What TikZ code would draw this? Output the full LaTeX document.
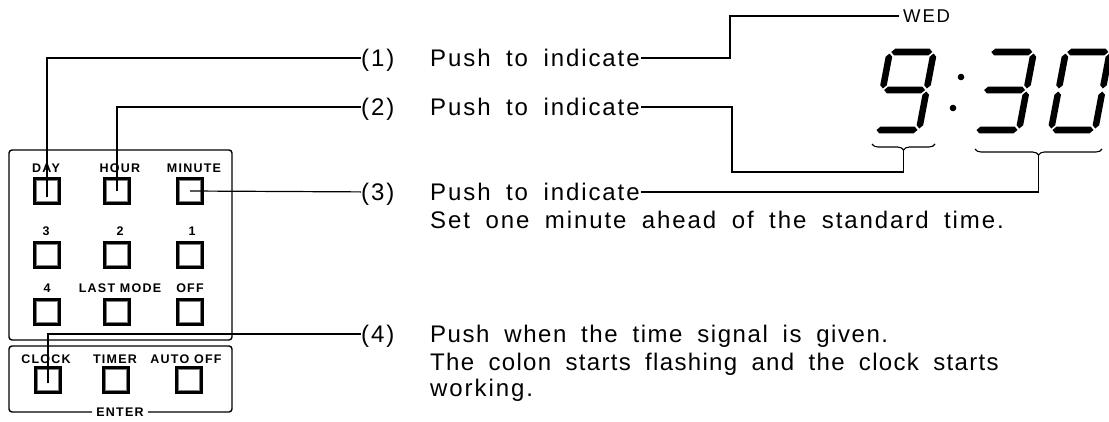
\documentclass[tikz,border=0pt]{standalone}
\usepackage{fontspec}
\setmainfont{Liberation Sans}
\newfontfamily\txtfont[LetterSpace=8,WordSpace=1.8]{Liberation Sans}
\newfontfamily\lblfont[LetterSpace=10]{Liberation Sans}
\usetikzlibrary{decorations.pathreplacing}
\newcommand\sgh[3]{\fill (#1,#3) -- ({#1+3.3},{#3-3.3}) -- ({#2-3.3},{#3-3.3}) -- (#2,#3) -- ({#2-3.3},{#3+3.3}) -- ({#1+3.3},{#3+3.3}) -- cycle;}
\newcommand\sgv[3]{\fill (#1,#2) -- ({#1+3.3},{#2+3.3}) -- ({#1+3.3},{#3-3.3}) -- (#1,#3) -- ({#1-3.3},{#3-3.3}) -- ({#1-3.3},{#2+3.3}) -- cycle;}
\newcommand\segA{\sgh{1.5}{42.5}{-78}}
\newcommand\segG{\sgh{1.5}{42.5}{-40}}
\newcommand\segD{\sgh{1.5}{42.5}{0}}
\newcommand\segB{\sgv{44}{-76.5}{-41.5}}
\newcommand\segC{\sgv{44}{-38.5}{-1.5}}
\newcommand\segF{\sgv{0}{-76.5}{-41.5}}
\newcommand\segE{\sgv{0}{-38.5}{-1.5}}
\begin{document}
\begin{tikzpicture}[x=1pt,y=-1pt,
  lead/.style={line width=1.2pt},
  box/.style={line width=1.4pt, rounded corners=3pt},
  btn/.style={draw, line width=3.6pt, minimum size=24.5pt, inner sep=0pt},
  lbl/.style={font=\lblfont\bfseries\fontsize{12.5}{13}\selectfont, inner sep=0pt, anchor=base},
  num/.style={font=\txtfont\fontsize{24}{26}\selectfont, inner sep=0pt, anchor=base west},
  txt/.style={num},
  brc/.style={decorate, decoration={brace, mirror, amplitude=6pt}, line width=1.1pt}
]
\useasboundingbox (0,0) rectangle (1109,421);

% panel boxes
\draw[box] (9,150) rectangle (232,340);
\node[lbl, anchor=center, inner xsep=4pt] (enter) at (120,412) {ENTER};
\draw[box] (enter.west) -- (9,412) -- (9,346) -- (232,346) -- (232,412) -- (enter.east);

% buttons
\foreach \n/\x/\y in {day/47/191, hour/117/191, minute/190/191,
                      three/47/255, two/117/255, one/190/255,
                      four/47/312, last/117/312, off/190/312,
                      clock/48/380, timer/116/380, auto/189/380}{
  \node[btn] (\n) at (\x,\y) {};
  \draw[gray, line width=0.5pt] ([shift={(3.5,-3.5)}]\n.south west) rectangle ([shift={(-3.5,3.5)}]\n.north east);
}
% labels
\node[lbl] (lday) at (46,172) {DAY};
\node[lbl] (lhour) at (120,172) {HOUR};
\node[lbl] (lmin) at (194,172) {MINUTE};
\node[lbl] (l3) at (46,235) {3};
\node[lbl] (l2) at (120,235) {2};
\node[lbl] (l1) at (192,235) {1};
\node[lbl] (l4) at (47,292) {4};
\node[lbl] (llast) at (120,292) {LAST MODE};
\node[lbl] (loff) at (190,292) {OFF};
\node[lbl] (lclock) at (46,363) {CLOCK};
\node[lbl] (ltimer) at (115,363) {TIMER};
\node[lbl] (lauto) at (186,363) {AUTO OFF};

% texts
\node[num] (n1) at (361,66.5) {(1)};
\node[txt] (t1) at (430,66.5) {Push to indicate};
\node[num] (n2) at (361,115.5) {(2)};
\node[txt] (t2) at (430,115.5) {Push to indicate};
\node[num] (n3) at (361,200.5) {(3)};
\node[txt] (t3) at (430,200.5) {Push to indicate};
\node[txt] (t3b) at (430,228.5) {Set one minute ahead of the standard time.};
\node[num] (n4) at (361,342.5) {(4)};
\node[txt] (t4) at (430,342.5) {\addfontfeature{LetterSpace=6.5}Push when the time signal is given.};
\node[txt] (t4b) at (430,370) {\addfontfeature{LetterSpace=5.5}The colon starts flashing and the clock starts};
\node[txt] (t4c) at (430,396) {working.};
\node[font=\lblfont\fontsize{18.5}{20}\selectfont, inner sep=0pt, anchor=base west] (wed) at (903,22.5) {WED};

% digits
\begin{scope}[shift={(875,130)}, xslant=0.19]
  \segA\segB\segC\segD\segF\segG
\end{scope}
\begin{scope}[shift={(975,130)}, xslant=0.19]
  \segA\segB\segC\segD\segG
\end{scope}
\begin{scope}[shift={(1051,130)}, xslant=0.19]
  \segA\segB\segC\segD\segE\segF
\end{scope}
\fill (961,77) circle (3.3);
\fill (953,108) circle (3.3);

% braces
\draw[brc] (872,144) -- (935,144);
\draw[brc] (975,149) -- (1102,149);
\coordinate (b9) at (903.5,150);
\coordinate (b30) at (1038.5,155);

% leaders, panel side
\draw[lead] ([yshift=-6pt]day.center) |- ([yshift=8.6pt]n1.base west);
\draw[lead] (hour.center) |- ([yshift=8.6pt]n2.base west);
\draw[lead] (minute.center) -- ([yshift=8.6pt]n3.base west);
\draw[lead] ([yshift=-3pt]clock.center) |- ([yshift=8.6pt]n4.base west);

% leaders, display side
\coordinate (k1) at (730,16);
\coordinate (k2) at (732,172);
\draw[lead] ([xshift=1pt,yshift=8.6pt]t1.base east) -| (k1) -- ([xshift=-4pt,yshift=6.5pt]wed.base west);
\draw[lead] ([xshift=1pt,yshift=8.6pt]t2.base east) -| (k2) -| (b9);
\draw[lead] ([xshift=1pt,yshift=8.6pt]t3.base east) -| (b30);
\end{tikzpicture}
\end{document}
